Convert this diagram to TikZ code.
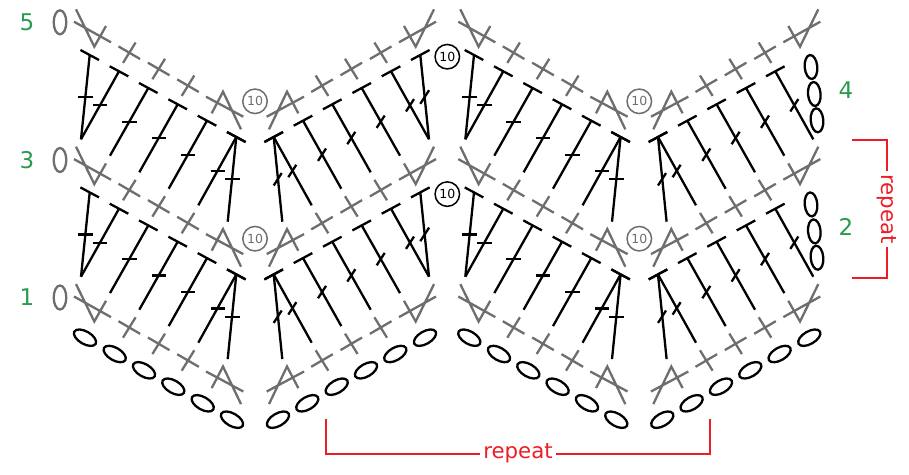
\documentclass[tikz,border=0pt]{standalone}
\usepackage{fontspec}
\setmainfont{DejaVu Sans}
\definecolor{stitchgray}{HTML}{6E6E6E}
\definecolor{rowgreen}{HTML}{2A9A4E}
\definecolor{repeatred}{HTML}{EE1C25}
\tikzset{
  graystitch/.style={draw=stitchgray,line width=2.3pt},
  blackstitch/.style={draw=black,line width=2.3pt},
  grayten/.style={circle,draw=stitchgray,line width=1.5pt,text=stitchgray,minimum size=24.5pt,inner sep=0pt,font=\fontsize{12.5}{13}\selectfont},
  blackten/.style={grayten,draw=black,text=black},
  rownum/.style={text=rowgreen,inner sep=0pt,font=\fontsize{23}{24}\selectfont},
  repeatlabel/.style={text=repeatred,inner sep=3pt,font=\fontsize{21.3}{24}\selectfont},
  repeatline/.style={draw=repeatred,line width=1.7pt}
}
\begin{document}
\begin{tikzpicture}[x=1pt,y=-1pt]
    \useasboundingbox (0,0) rectangle (909,474);
    \def\repx{384.3}
    \def\repy{137.4}
    % one falling half of a gray row
    \def\grayrow{
      \path[graystitch] (76,9.3) -- (94.3,46.7) -- (106,26) (74,21.7) -- (111,42.3);
      \foreach \cx/\cy in {129.3/52.7,158.7/69,188/85.7}
        \path[graystitch] (\cx-10.8,\cy-6.3) -- (\cx+10.8,\cy+6.3) (\cx+6.3,\cy-10.2) -- (\cx-6.3,\cy+10.2);
      \path[graystitch] (211.7,113.3) -- (223,91.7) -- (241,129.3) (206,96.7) -- (243.3,116.7);
    }
    % one falling half of a black row, #1 #2 half a tick
    \def\blackrow#1#2{
      \foreach \tx/\ty/\ex/\ey/\mx/\my in {119/71.3/81/139.3/100/105.3,148.3/88/110/155.7/129.3/121.7,177.7/104.3/139.3/172.3/158.7/138,207/120.7/168.7/188.7/188/154.7,236.3/137/198.3/205.3/217.7/171,236.3/137/227.7/221.7/232.3/179.3}{
        \path[blackstitch] (\tx-9.3,\ty-5) -- (\tx+9.3,\ty+5) (\tx,\ty) -- (\ex,\ey);
        \path[blackstitch] (\mx-#1,\my-#2) -- (\mx+#1,\my+#2);
      }
    }
    % the stitch at the high end, left out once at the right edge
    \def\blackfirst#1#2{
      \path[blackstitch] (80.4,50) -- (99,60) (89.7,55) -- (81,139.3);
      \path[blackstitch] (85.3-#1,97-#2) -- (85.3+#1,97+#2);
    }
    % the base chain
    \def\basechain{
      \foreach \cx/\cy in {85/337.7,114.7/354,144/370.3,173.3/386.7,202.7/403.3,232/419.7}
        \path[blackstitch,rotate around={-30:(\cx,\cy)}] (\cx,\cy) ellipse (12.3 and 6.3);
    }
    \foreach \c in {0,1}{
      \foreach \r in {0,1,2}{
        \begin{scope}[shift={(\c*\repx,\r*\repy)}]
          \grayrow
        \end{scope}
        \begin{scope}[shift={(\c*\repx,\r*\repy)},shift={(510,0)},xscale=-1]
          \grayrow
        \end{scope}
      }
      \foreach \r in {0,1}{
        \begin{scope}[shift={(\c*\repx,\r*\repy)}]
          \blackrow{7.2}{0}
          \blackfirst{7.2}{0}
        \end{scope}
        \begin{scope}[shift={(\c*\repx,\r*\repy)},shift={(510,0)},xscale=-1]
          \blackrow{-4}{-6.2}
          \ifnum\c=0 \blackfirst{-4.4}{-6.8}\fi
        \end{scope}
      }
      \begin{scope}[shift={(\c*\repx,0)}]
        \basechain
      \end{scope}
      \begin{scope}[shift={(\c*\repx,0)},shift={(510,0)},xscale=-1]
        \basechain
      \end{scope}
    }
    % turning chains
    \foreach \cx/\cy in {60/22.3,60/160,60/297.5}
      \path[graystitch] (\cx,\cy) ellipse (6.3 and 12);
    \foreach \cx/\cy in {811/67,814.3/94,817/120.3,811/204.4,814.3/231.4,817/257.7}
      \path[blackstitch,rotate around={5:(\cx,\cy)}] (\cx,\cy) ellipse (6.3 and 12);
    % tens
    \node[grayten] (T0_0) at (255,101.3) {10};
    \node[grayten] (T0_1) at (255,238.7) {10};
    \node[grayten] (T1_0) at (639.3,101.3) {10};
    \node[grayten] (T1_1) at (639.3,238.7) {10};
    \node[blackten] (B0_0) at (447.3,56.7) {10};
    \node[blackten] (B0_1) at (447.3,194.1) {10};
    % row numbers
    \node[rownum] (R5) at (27,22) {5};
    \node[rownum] (R3) at (27,160) {3};
    \node[rownum] (R1) at (27,297) {1};
    \node[rownum] (R4) at (846,90) {4};
    \node[rownum] (R2) at (846,227) {2};
    % repeats
    \node[repeatlabel] (H) at (518,453.7) {repeat};
    \coordinate (H_l) at (326,419.3);
    \coordinate (H_r) at (710,419.3);
    \path[repeatline] (H_l) |- (H);
    \path[repeatline] (H_r) |- (H);
    \node[repeatlabel,rotate=-90] (V) at (886.7,208.8) {repeat};
    \coordinate (V_t) at (851.7,140);
    \coordinate (V_b) at (851.7,277.7);
    \path[repeatline] (V_t) -| (V);
    \path[repeatline] (V_b) -| (V);
  \end{tikzpicture}
\end{document}
